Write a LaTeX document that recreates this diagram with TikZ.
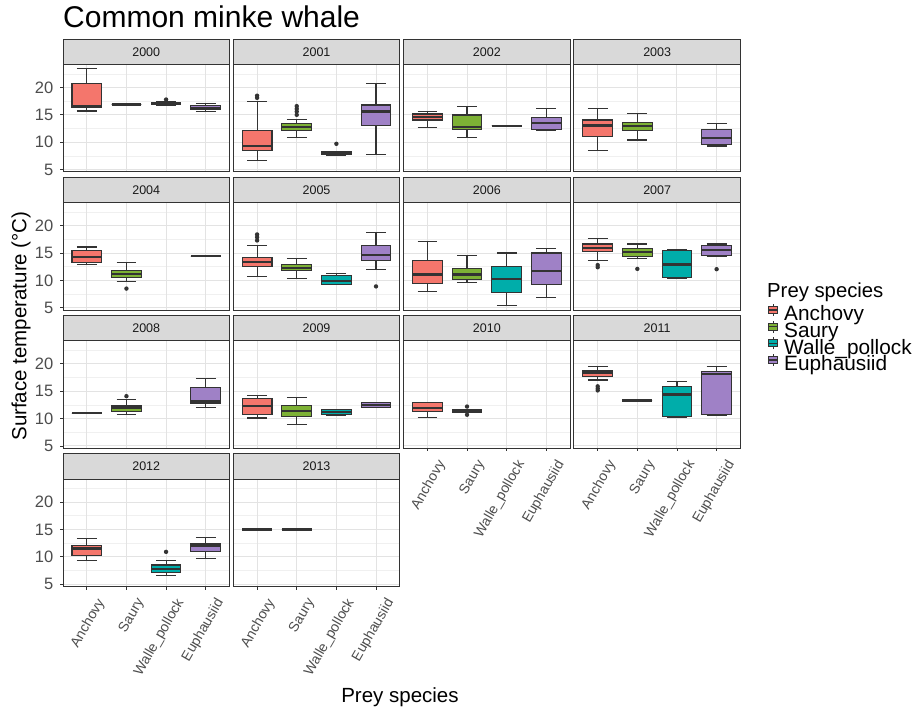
\documentclass[tikz,border=0pt]{standalone}
\usepackage{fontspec}
\setmainfont{Liberation Sans}
\usepackage{xcolor}
\usepackage{tikz}

\definecolor{anch}{HTML}{F4766C}
\definecolor{saur}{HTML}{7DB135}
\definecolor{wall}{HTML}{00ADAA}
\definecolor{euph}{HTML}{9F81C6}
\definecolor{gridmaj}{HTML}{E3E3E3}
\definecolor{gridmin}{HTML}{F0F0F0}
\definecolor{stripc}{HTML}{D9D9D9}
\definecolor{linec}{HTML}{333333}
\definecolor{axtext}{HTML}{4D4D4D}

\tikzset{
  panel/.style 2 args={shift={(#1,#2)}, y=5.47pt, yshift=-24.89pt},
  boxline/.style={draw=linec, line width=1.1pt},
  medline/.style={draw=linec, line width=2.3pt},
  ytick/.style={anchor=east, inner sep=0pt, text=axtext, font=\fontsize{16.5}{18}\selectfont},
  xtick/.style={anchor=north east, rotate=60, inner sep=0pt, text=axtext, font=\fontsize{14}{15}\selectfont},
  striptext/.style={inner sep=0pt, text=black!90, font=\fontsize{12.5}{14}\selectfont},
  legtext/.style={anchor=base west, inner sep=0pt, font=\fontsize{20.8}{22}\selectfont}
}

\newcommand{\bx}[7]{%
  \pgfmathsetmacro{\cx}{23.8+39.64*(#1-1)}%
  \draw[boxline] (\cx,#2) -- (\cx,#3) (\cx,#5) -- (\cx,#6) (\cx-9.9,#2) -- (\cx+9.9,#2) (\cx-9.9,#6) -- (\cx+9.9,#6);
  \filldraw[boxline, fill=#7] (\cx-14.85,#3) rectangle (\cx+14.85,#5);
  \draw[medline] (\cx-14.85,#4) -- (\cx+14.85,#4);
}
\newcommand{\ol}[2]{%
  \pgfmathsetmacro{\cx}{23.8+39.64*(#1-1)}%
  \fill[linec] (\cx,#2) circle (2.2pt);
}
\newcommand{\pnl}[2]{%
  \foreach \v in {7.5,12.5,17.5,22.5} \draw[gridmin, line width=0.6pt] (0,\v) -- (166.5,\v);
  \foreach \v in {5,10,15,20} \draw[gridmaj, line width=1pt] (0,\v) -- (166.5,\v);
  \foreach \k in {0,...,3} \draw[gridmaj, line width=1pt] ({23.8+39.64*\k},4.55) -- ({23.8+39.64*\k},24.2);
  \draw[linec, line width=1pt] (0,4.55) rectangle (166.5,24.2);
  \filldraw[draw=linec, line width=1pt, fill=stripc] (0,24.2) rectangle (166.5,28.86);
  \draw (83.25,26.53) node[striptext] (#1) {#2};
}
\newcommand{\yax}[1]{%
  \foreach \v in {5,10,15,20} {
    \draw[linec, line width=0.8pt] (-3,\v) -- (0,\v);
    \draw (-9.5,\v) node[ytick] (#1y\v) {\v};
  }
}
\newcommand{\xax}[1]{%
  \foreach \k/\n in {1/Anchovy,2/Saury,3/Walle\_pollock,4/Euphausiid} {
    \pgfmathsetmacro{\cx}{23.8+39.64*(\k-1)}
    \draw[linec, line width=0.8pt] (\cx,4.55) -- (\cx,4.0);
    \draw (\cx+9,2.7) node[xtick] (#1x\k) {\n};
  }
}

\begin{document}
\begin{tikzpicture}[x=1pt, y=1pt]
\useasboundingbox (0,0) rectangle (919,710);
\fill[white] (0,0) rectangle (919,710);

\draw (63,682) node[anchor=base west, inner sep=0pt, font=\fontsize{30}{32}\selectfont] (title) {Common minke whale};

\begin{scope}[panel={63}{538}]
\pnl{s2000}{2000}
\yax{p2000}
\bx{1}{15.7}{16.3}{16.6}{20.8}{23.4}{anch}
\bx{2}{16.9}{16.9}{16.9}{16.9}{16.9}{saur}
\bx{3}{16.8}{16.85}{17.0}{17.2}{17.4}{wall}
\ol{3}{17.8}
\bx{4}{15.6}{16.0}{16.3}{16.7}{17.1}{euph}
\end{scope}

\begin{scope}[panel={233.3}{538}]
\pnl{s2001}{2001}
\bx{1}{6.6}{8.4}{9.3}{12.1}{17.4}{anch}
\ol{1}{18.5}\ol{1}{18.1}
\bx{2}{10.9}{12.1}{12.8}{13.4}{14.1}{saur}
\ol{2}{15.0}\ol{2}{15.6}\ol{2}{16.1}\ol{2}{16.6}
\bx{3}{7.6}{7.7}{7.95}{8.2}{8.3}{wall}
\ol{3}{9.7}
\bx{4}{7.7}{13.0}{15.6}{16.8}{20.8}{euph}
\end{scope}

\begin{scope}[panel={403.6}{538}]
\pnl{s2002}{2002}
\bx{1}{12.65}{14.05}{14.55}{15.15}{15.65}{anch}
\bx{2}{10.8}{12.4}{12.8}{14.97}{16.6}{saur}
\bx{3}{13}{13}{13}{13}{13}{wall}
\bx{4}{12.2}{12.35}{13.5}{14.55}{16.1}{euph}
\end{scope}

\begin{scope}[panel={573.9}{538}]
\pnl{s2003}{2003}
\bx{1}{8.4}{11.0}{13.05}{14.05}{16.1}{anch}
\bx{2}{10.4}{12.2}{12.95}{13.6}{15.2}{saur}
\bx{4}{9.3}{9.5}{10.8}{12.4}{13.4}{euph}
\end{scope}

\begin{scope}[panel={63}{399.8}]
\pnl{s2004}{2004}
\yax{p2004}
\bx{1}{12.95}{13.3}{14.3}{15.4}{16.1}{anch}
\bx{2}{9.85}{10.6}{11.2}{11.75}{13.3}{saur}
\ol{2}{8.5}
\bx{4}{14.4}{14.4}{14.4}{14.4}{14.4}{euph}
\end{scope}

\begin{scope}[panel={233.3}{399.8}]
\pnl{s2005}{2005}
\bx{1}{10.75}{12.6}{13.4}{14.2}{16.4}{anch}
\ol{1}{17.3}\ol{1}{17.9}\ol{1}{18.4}
\bx{2}{10.35}{11.75}{12.3}{12.9}{14.0}{saur}
\bx{3}{9.2}{9.3}{9.9}{10.95}{11.2}{wall}
\bx{4}{12.05}{13.7}{14.6}{16.3}{18.75}{euph}
\ol{4}{8.9}
\end{scope}

\begin{scope}[panel={403.6}{399.8}]
\pnl{s2006}{2006}
\bx{1}{7.9}{9.4}{11.1}{13.7}{17.1}{anch}
\bx{2}{9.6}{10.2}{11.1}{12.1}{14.5}{saur}
\bx{3}{5.4}{7.85}{10.3}{12.6}{15.0}{wall}
\bx{4}{6.8}{9.3}{11.75}{15.0}{15.85}{euph}
\end{scope}

\begin{scope}[panel={573.9}{399.8}]
\pnl{s2007}{2007}
\bx{1}{13.6}{15.2}{15.95}{16.65}{17.7}{anch}
\ol{1}{12.8}\ol{1}{12.4}
\bx{2}{14.05}{14.4}{15.25}{15.8}{16.65}{saur}
\ol{2}{12.1}
\bx{3}{10.3}{10.6}{12.9}{15.4}{15.7}{wall}
\bx{4}{14.4}{14.55}{15.55}{16.45}{16.65}{euph}
\ol{4}{12.05}
\end{scope}

\begin{scope}[panel={63}{261.6}]
\pnl{s2008}{2008}
\yax{p2008}
\bx{1}{11}{11}{11}{11}{11}{anch}
\bx{2}{10.75}{11.35}{12.0}{12.4}{13.45}{saur}
\ol{2}{14.1}
\bx{4}{12.0}{12.8}{13.15}{15.65}{17.3}{euph}
\end{scope}

\begin{scope}[panel={233.3}{261.6}]
\pnl{s2009}{2009}
\bx{1}{10.1}{10.75}{12.25}{13.6}{14.3}{anch}
\bx{2}{8.9}{10.3}{11.35}{12.4}{13.8}{saur}
\bx{3}{10.6}{10.75}{11.2}{11.6}{11.7}{wall}
\bx{4}{12.0}{12.1}{12.5}{12.9}{13.0}{euph}
\end{scope}

\begin{scope}[panel={403.6}{261.6}]
\pnl{s2010}{2010}
\xax{p2010}
\bx{1}{10.15}{11.35}{11.9}{12.9}{12.9}{anch}
\bx{2}{11.1}{11.1}{11.3}{11.6}{11.6}{saur}
\ol{2}{12.2}\ol{2}{10.7}
\end{scope}

\begin{scope}[panel={573.9}{261.6}]
\pnl{s2011}{2011}
\xax{p2011}
\bx{1}{17.05}{17.7}{18.4}{18.8}{19.6}{anch}
\ol{1}{15.9}\ol{1}{15.5}\ol{1}{15.15}
\bx{2}{13.3}{13.3}{13.3}{13.3}{13.3}{saur}
\bx{3}{10.2}{10.3}{14.4}{15.9}{16.85}{wall}
\bx{4}{10.55}{10.7}{18.15}{18.55}{19.45}{euph}
\end{scope}

\begin{scope}[panel={63}{123.4}]
\pnl{s2012}{2012}
\yax{p2012}
\xax{p2012}
\bx{1}{9.4}{10.3}{11.5}{12.1}{13.4}{anch}
\bx{3}{6.5}{7.15}{7.75}{8.5}{9.3}{wall}
\ol{3}{10.9}
\bx{4}{9.7}{10.9}{12.05}{12.4}{13.5}{euph}
\end{scope}

\begin{scope}[panel={233.3}{123.4}]
\pnl{s2013}{2013}
\xax{p2013}
\bx{1}{15}{15}{15}{15}{15}{anch}
\bx{2}{15}{15}{15}{15}{15}{saur}
\end{scope}

\draw (21,384) node[rotate=90, inner sep=0pt, font=\fontsize{20.5}{22}\selectfont] (ytitle) {Surface temperature (°C)};
\draw (400,7) node[anchor=base, inner sep=0pt, font=\fontsize{20.5}{22}\selectfont] (xtitle) {Prey species};

\draw (767,412) node[anchor=base west, inner sep=0pt, font=\fontsize{20.3}{22}\selectfont] (legtitle) {Prey species};
\draw[linec, line width=0.8pt] (773,394) -- (773,406);
\filldraw[draw=linec, line width=0.8pt, fill=anch] (768.5,396.5) rectangle (777.5,403.5);
\draw[linec, line width=1.4pt] (768.5,400) -- (777.5,400);
\draw (784,389) node[legtext] (leganch) {Anchovy};
\draw[linec, line width=0.8pt] (773,377.3) -- (773,389.3);
\filldraw[draw=linec, line width=0.8pt, fill=saur] (768.5,379.8) rectangle (777.5,386.8);
\draw[linec, line width=1.4pt] (768.5,383.3) -- (777.5,383.3);
\draw (784,372.3) node[legtext] (legsaur) {Saury};
\draw[linec, line width=0.8pt] (773,360.6) -- (773,372.6);
\filldraw[draw=linec, line width=0.8pt, fill=wall] (768.5,363.1) rectangle (777.5,370.1);
\draw[linec, line width=1.4pt] (768.5,366.6) -- (777.5,366.6);
\draw (784,355.6) node[legtext] (legwall) {Walle\_pollock};
\draw[linec, line width=0.8pt] (773,344) -- (773,356);
\filldraw[draw=linec, line width=0.8pt, fill=euph] (768.5,346.5) rectangle (777.5,353.5);
\draw[linec, line width=1.4pt] (768.5,350) -- (777.5,350);
\draw (784,339) node[legtext] (legeuph) {Euphausiid};
\end{tikzpicture}
\end{document}
